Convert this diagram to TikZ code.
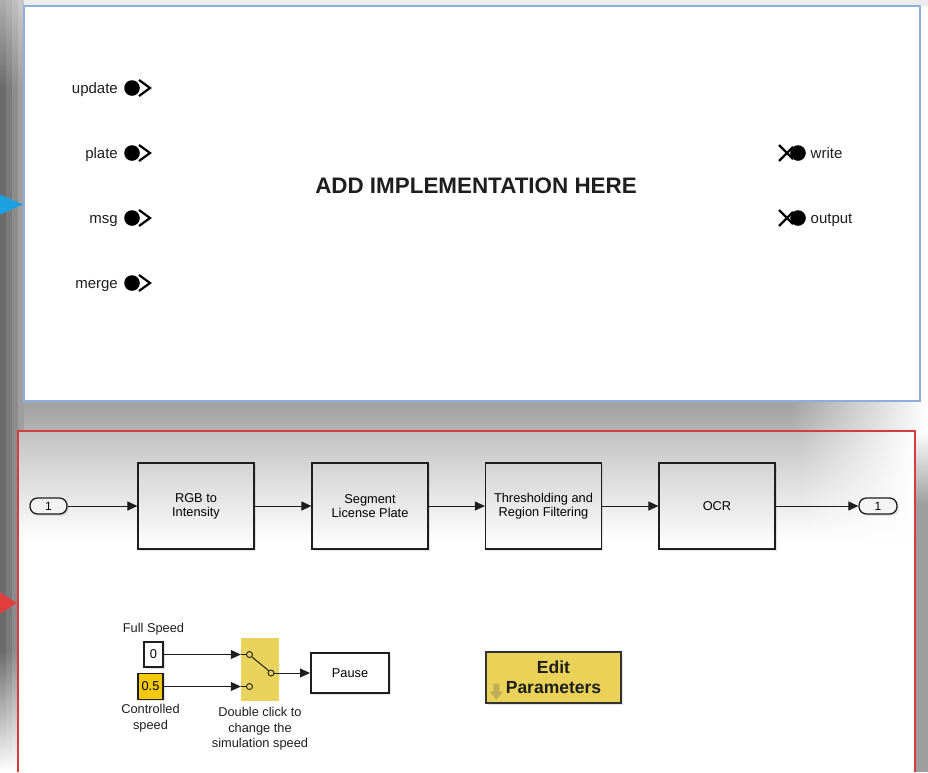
\documentclass[tikz,border=0pt]{standalone}
\usepackage{fontspec}
\setmainfont{Liberation Sans}
\usetikzlibrary{arrows.meta,shadows,fadings}

\definecolor{frameblue}{HTML}{8EAEDC}
\definecolor{framered}{HTML}{D63B3E}
\definecolor{portblue}{HTML}{1BA1E2}
\definecolor{portred}{HTML}{E23C3D}
\definecolor{constyellow}{HTML}{F3C90E}
\definecolor{switchyellow}{HTML}{E9D35C}
\definecolor{btnyellow}{HTML}{E9D257}
\definecolor{ink}{HTML}{1E1E1E}
\definecolor{iconolive}{HTML}{B9A857}

\tikzset{
  portlabel/.style={inner sep=0pt, font=\fontsize{15}{17}\selectfont, text=ink},
  portdot/.style={circle, fill=black, minimum size=15.6pt, inner sep=0pt},
  portmark/.style={line width=2.2pt, black},
  softshadow/.style={drop shadow={shadow xshift=1.8pt, shadow yshift=-1.8pt, opacity=0.22}},
  block/.style={draw=ink, line width=1.2pt, minimum width=116pt, minimum height=86pt,
    inner sep=0pt, align=center, font=\fontsize{12.8}{14}\selectfont,
    top color=black!17, bottom color=white, softshadow},
  pill/.style={draw=ink, line width=1.3pt, rounded corners=7.5pt, minimum width=37pt,
    minimum height=16pt, inner sep=0pt, font=\fontsize{12}{14}\selectfont, softshadow},
  sig/.style={line width=1pt, ink, -{Triangle[length=10pt,width=9pt]}},
  wire/.style={line width=1pt, ink},
  small/.style={inner sep=0pt, align=center, font=\fontsize{12.8}{15.5}\selectfont, text=ink},
  swpin/.style={circle, draw=ink, line width=0.9pt, minimum size=6pt, inner sep=0pt},
}

\begin{document}
\begin{tikzpicture}[x=1pt,y=-1pt]
\useasboundingbox (0,0) rectangle (928,772);

% ---- canvas background with the soft grey shade around the two areas ----
\fill[white] (0,0) rectangle (928,772);
\fill[black!7] (0,0) rectangle (928,6);
% left margin: columns getting lighter towards the frames
\fill[black!58] (0,0) rectangle (6,772);
\fill[black!52] (6,0) rectangle (12,772);
\fill[black!45] (12,0) rectangle (18,772);
\fill[black!38] (18,0) rectangle (24,772);
\fill[white, opacity=0.45, path fading=south] (0,0) rectangle (24,90);
\fill[white, path fading=north] (0,650) rectangle (24,772);
% band between the two frames, fading out on the right
\shade[top color=black!37, bottom color=black!30] (24,401) rectangle (928,431);
\fill[white, path fading=west] (790,401) rectangle (928,431);
\fill[black!38] (915,431) rectangle (928,772);
\fill[white, path fading=south] (915,431) rectangle (928,505);

% ---- upper area ----
\fill[white] (24,6) rectangle (920,401);
\draw[frameblue, line width=1.4pt] (24,6) rectangle (920,401);
\fill[portblue] (0,194.5) -- (23,204.5) -- (0,214.5) -- cycle;

\node[font=\fontsize{22.4}{25}\selectfont\bfseries, inner sep=0pt, text=ink] (title) at (476,185.5) {ADD IMPLEMENTATION HERE};

% input ports
\foreach \nm/\yy in {update/88, plate/153, msg/218, merge/283}{
  \node[portlabel, anchor=base east] (l\nm) at (118,\yy+5) {\nm};
  \draw[portmark] (139,\yy-8) -- (150,\yy) -- (139,\yy+8);
  \node[portdot] (d\nm) at (132,\yy) {};
}
% output ports
\foreach \nm/\yy in {write/153, output/218}{
  \draw[line width=2.2pt, black] (779,\yy-8) -- (793,\yy+6) (779,\yy+8) -- (793,\yy-6);
  \node[portdot] (d\nm) at (798,\yy) {};
  \node[portlabel, anchor=base west] (l\nm) at (810.5,\yy+5) {\nm};
}

% ---- lower area ----
\fill[white] (18,431) rectangle (915,772);
\shade[top color=black!24, bottom color=white] (18,431) rectangle (915,540);
\fill[white, path fading=west] (800,431) rectangle (915,540);
\draw[framered, line width=1.5pt] (18,772) -- (18,431) -- (915,431) -- (915,772);
\fill[portred] (0,592.5) -- (17,603) -- (0,613.5) -- cycle;

% processing chain
\node[pill, fill=black!5] (in1) at (48.5,506) {1};
\node[block] (b1) at (196,506) {RGB to\\Intensity};
\node[block] (b2) at (370,506) {Segment\\License Plate};
\node[block] (b3) at (543.5,506) {Thresholding and\\Region Filtering};
\node[block] (b4) at (717,506) {OCR};
\node[pill, fill=black!4, minimum width=38pt] (out1) at (878,506) {1};
\draw[sig] (in1) -- (b1);
\draw[sig] (b1) -- (b2);
\draw[sig] (b2) -- (b3);
\draw[sig] (b3) -- (b4);
\draw[sig] (b4) -- (out1);

% simulation speed selector
\node[small] (lfull) at (153.5,629) {Full Speed};
\node[draw=ink, line width=1.2pt, fill=white, softshadow, minimum width=19pt, minimum height=25pt,
      inner sep=0pt, font=\fontsize{12.8}{14}\selectfont] (c0) at (153.5,654.5) {0};
\node[draw=ink, line width=1.2pt, fill=constyellow, softshadow, minimum width=25pt, minimum height=26pt,
      inner sep=0pt, font=\fontsize{12.8}{14}\selectfont] (c05) at (150.5,686.5) {0.5};
\node[small] (lctrl) at (150.5,718) {Controlled\\speed};

\node[fill=switchyellow, minimum width=38pt, minimum height=63pt, inner sep=0pt] (sw) at (260,669.5) {};
\node[swpin] (swa) at (249.5,654.5) {};
\node[swpin] (swb) at (249.5,686.5) {};
\node[swpin] (swo) at (271,673) {};
\draw[wire] (sw.west |- swa) -- (swa.west);
\draw[wire] (sw.west |- swb) -- (swb.west);
\draw[wire] (swa.south east) -- (swo.north west);
\draw[wire] (swo.east) -- (sw.east |- swo);
\node[small] (lswitch) at (260,729) {Double click to\\change the\\simulation speed};

\node[draw=ink, line width=2pt, fill=white, softshadow, minimum width=78pt, minimum height=40pt,
      inner sep=0pt, font=\fontsize{12.8}{14}\selectfont] (pause) at (350,673) {Pause};

\draw[sig] (c0.east) -- (c0.east -| sw.west);
\draw[sig] (c05.east |- swb) -- (sw.west |- swb);
\draw[sig] (sw.east |- swo) -- (pause.west |- swo);

% parameter dialog button
\node[draw=black!80, line width=1.2pt, fill=btnyellow, softshadow, minimum width=135pt, minimum height=51pt,
      inner sep=0pt, align=center, font=\fontsize{17.5}{20}\selectfont\bfseries, text=ink] (edit) at (553.5,677.5) {Edit\\Parameters};
\fill[iconolive, opacity=0.85] ([shift={(8,6)}]edit.west) -- ([shift={(14,6)}]edit.west) -- ([shift={(14,14)}]edit.west)
  -- ([shift={(18,14)}]edit.west) -- ([shift={(11,22)}]edit.west) -- ([shift={(4,14)}]edit.west)
  -- ([shift={(8,14)}]edit.west) -- cycle;
\end{tikzpicture}
\end{document}
